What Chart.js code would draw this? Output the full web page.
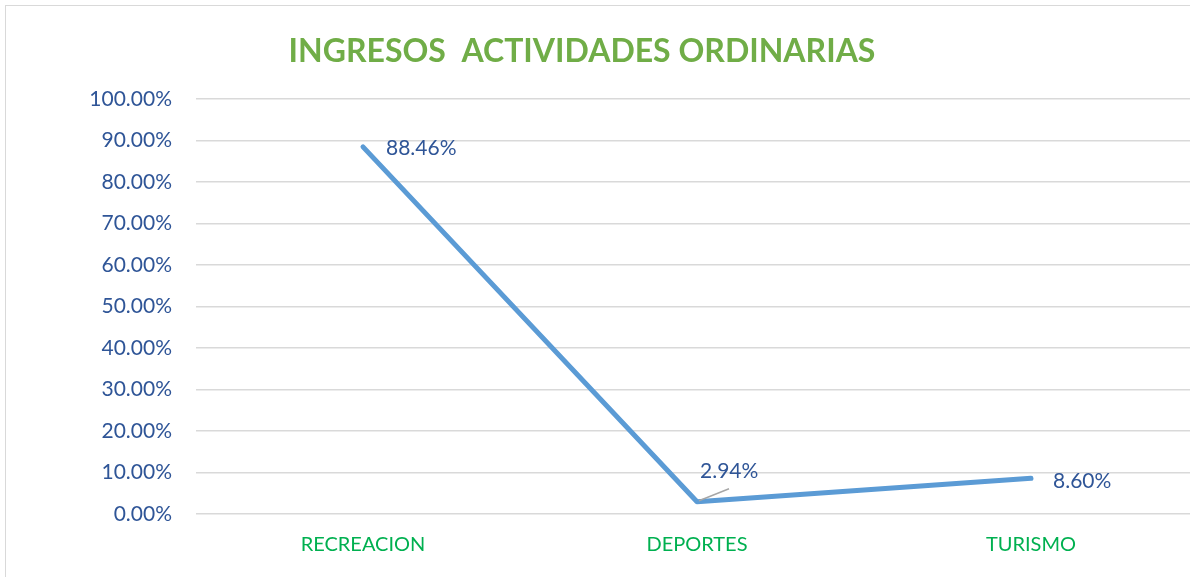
<!DOCTYPE html>
<html>
<head>
<meta charset="utf-8">
<script src="https://cdn.jsdelivr.net/npm/chart.js@4/dist/chart.umd.min.js"></script>
<style>
  html, body { margin: 0; padding: 0; background: #ffffff; overflow: hidden; }
  #wrap { position: relative; width: 1190px; height: 577px; overflow: hidden; }
  #frame { position: absolute; left: 5px; top: 5px; width: 1300px; height: 700px;
           border-left: 1.5px solid #d9d9d9; border-top: 1.5px solid #d9d9d9; box-sizing: border-box; }
  #box { position: absolute; left: 0; top: 0; width: 1200px; height: 577px; }
</style>
</head>
<body>
<div id="wrap">
  <div id="frame"></div>
  <div id="box"><canvas id="c" width="1200" height="577"></canvas></div>
</div>
<script>
const chartTitle = 'INGRESOS  ACTIVIDADES ORDINARIAS';
const categories = ['RECREACION', 'DEPORTES', 'TURISMO'];
const values = [88.46, 2.94, 8.60];
const valueLabels = ['88.46%', '2.94%', '8.60%'];
const yTickMin = 0, yTickMax = 100, yTickStep = 10;

const FONT = 'Lato, "Open Sans", sans-serif';
const BLUE_TXT = '#2F5597';

const labelOffsets = [ {dx: 23, dy: 1, leader: false}, {dx: 3, dy: -31, leader: true}, {dx: 22, dy: 3, leader: false} ];

const extrasPlugin = {
  id: 'extras',
  afterDraw(chart) {
    const ctx = chart.ctx;
    ctx.save();
    // title
    ctx.font = 'bold 32px ' + FONT;
    ctx.fillStyle = '#70AD47';
    ctx.textAlign = 'center';
    ctx.textBaseline = 'middle';
    ctx.fillText(chartTitle, 582, 52);
    // data labels
    const meta = chart.getDatasetMeta(0);
    ctx.font = '21px ' + FONT;
    ctx.fillStyle = BLUE_TXT;
    ctx.textAlign = 'left';
    meta.data.forEach((pt, i) => {
      const o = labelOffsets[i];
      const tx = pt.x + o.dx, ty = pt.y + o.dy;
      if (o.leader) {
        ctx.strokeStyle = '#a6a6a6';
        ctx.lineWidth = 1.5;
        ctx.beginPath();
        ctx.moveTo(pt.x + 2, pt.y - 1);
        ctx.lineTo(pt.x + 32, pt.y - 13);
        ctx.stroke();
      }
      ctx.fillText(valueLabels[i], tx, ty);
    });
    ctx.restore();
  }
};

new Chart(document.getElementById('c'), {
  type: 'line',
  data: {
    labels: categories,
    datasets: [{
      data: values,
      borderColor: '#5B9BD5',
      backgroundColor: '#5B9BD5',
      borderWidth: 5,
      borderCapStyle: 'round',
      borderJoinStyle: 'round',
      pointRadius: 0,
      tension: 0,
      fill: false
    }]
  },
  options: {
    responsive: false,
    animation: false,
    devicePixelRatio: 1,
    layout: { padding: { top: 99, right: 2, left: 0, bottom: 0 } },
    plugins: { legend: { display: false }, title: { display: false }, tooltip: { enabled: false } },
    scales: {
      x: {
        offset: true,
        grid: { display: false, drawTicks: false },
        border: { display: false },
        ticks: { color: '#00B050', font: { family: FONT, size: 20 }, padding: 19, maxRotation: 0 },
        afterFit(s) { s.height = 63; }
      },
      y: {
        min: yTickMin, max: yTickMax,
        grid: { color: '#d9d9d9', lineWidth: 1.5, drawTicks: false },
        border: { display: false },
        ticks: { stepSize: yTickStep, color: BLUE_TXT, font: { family: FONT, size: 21 }, padding: 24,
                 callback: v => v.toFixed(2) + '%' },
        afterFit(s) { s.width = 196; }
      }
    }
  },
  plugins: [extrasPlugin]
});
</script>
</body>
</html>
